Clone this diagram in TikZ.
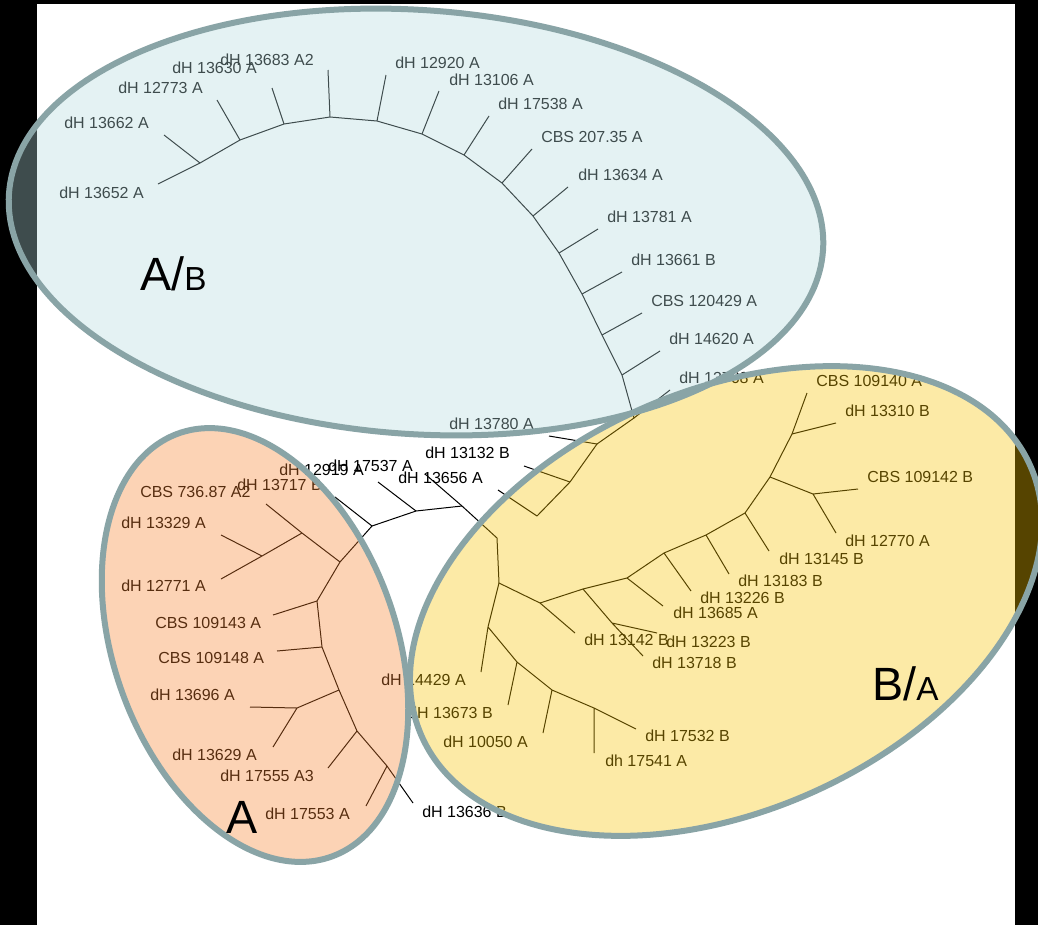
\documentclass[tikz,border=0pt]{standalone}
\usepackage{fontspec}
\setmainfont{Liberation Sans}

\definecolor{rimgray}{RGB}{137,164,166}
\definecolor{grpblue}{RGB}{180,219,222}
\definecolor{grporange}{RGB}{249,130,45}
\definecolor{grpyellow}{RGB}{249,196,0}

\tikzset{
  lbl/.style={anchor=west, inner sep=0pt, font=\fontsize{12}{14}\selectfont},
  br/.style={line width=0.75pt, line join=round},
  grpfill/.style={fill opacity=0.35},
  grprim/.style={draw=rimgray, line width=4.5pt},
  biglbl/.style={anchor=base west, inner sep=0pt}
}

\begin{document}
\begin{tikzpicture}[x=0.75pt,y=0.75pt,yscale=-1,xscale=1]
\useasboundingbox (0,0) rectangle (1038,925);
\clip (0,0) rectangle (1038,925);

%Page
\fill[black] (0,0) rectangle (1038,925);
\fill[white] (37,4) rectangle (1015,925);

%Tree nodes, blue group
\coordinate (b1) at (200,163);   \coordinate (l13652) at (158,184); \coordinate (l13662) at (164,135);
\coordinate (b2) at (240,140);   \coordinate (l12773) at (217,100);
\coordinate (b3) at (284,124);   \coordinate (l13630) at (272,88);
\coordinate (b4) at (330,117);   \coordinate (l13683) at (328,70);
\coordinate (b5) at (377,121);   \coordinate (l12920) at (386,75);
\coordinate (b6) at (422,134);   \coordinate (l13106) at (439,91);
\coordinate (b7) at (464,155);   \coordinate (l17538) at (489,116);
\coordinate (b8) at (502,183);   \coordinate (l20735) at (532,149);
\coordinate (b9) at (533,216);   \coordinate (l13634) at (568,187);
\coordinate (b10) at (559,253);  \coordinate (l13781) at (598,229);
\coordinate (b11) at (582,294);  \coordinate (l13661) at (622,272);
\coordinate (b12) at (602,335);  \coordinate (l120429) at (642,313);
\coordinate (b13) at (622,375);  \coordinate (l14620) at (660,351);
\coordinate (b14) at (634,418);  \coordinate (l13768) at (670,390);
\coordinate (c1) at (597,444);   \coordinate (l13780) at (549,436);
\coordinate (c2) at (570,482);   \coordinate (l13132) at (524,466);
\coordinate (c3) at (537,516);   \coordinate (l13656) at (498,490);
%Tree nodes, centre
\coordinate (r1) at (462,506);   \coordinate (l17537) at (425,474);
\coordinate (r2) at (416,511);   \coordinate (l12919) at (378,482);
\coordinate (r3) at (372,526);   \coordinate (l13717) at (335,497);
\coordinate (r4) at (497,538);
%Tree nodes, orange group
\coordinate (o1) at (340,562);
\coordinate (o2) at (302,533);   \coordinate (l73687) at (266,504);
\coordinate (o3) at (262,556);   \coordinate (l13329) at (221,535); \coordinate (l12771) at (221,579);
\coordinate (o4) at (317,601);   \coordinate (l109143) at (273,615);
\coordinate (o5) at (322,647);   \coordinate (l109148) at (277,651);
\coordinate (o6) at (339,690);
\coordinate (o7) at (297,708);   \coordinate (l13696) at (250,707); \coordinate (l13629) at (273,747);
\coordinate (o8) at (357,731);   \coordinate (l17555) at (328,768);
\coordinate (o9) at (387,766);   \coordinate (l17553) at (366,806); \coordinate (l13636) at (413,803);
%Tree nodes, yellow group
\coordinate (y1) at (499,583);
\coordinate (y2) at (540,603);   \coordinate (l13142) at (575,633);
\coordinate (y3) at (583,589);
\coordinate (y4) at (612,623);   \coordinate (l13718) at (643,656); \coordinate (l13223) at (657,633);
\coordinate (y5) at (627,578);   \coordinate (l13685) at (663,606);
\coordinate (y6) at (664,553);   \coordinate (l13226) at (691,591);
\coordinate (y7) at (706,535);   \coordinate (l13183) at (729,574);
\coordinate (y8) at (745,513);   \coordinate (l13145) at (769,551);
\coordinate (y9) at (770,477);
\coordinate (y10) at (813,494);  \coordinate (l109142) at (858,489); \coordinate (l12770) at (836,533);
\coordinate (y11) at (792,434);  \coordinate (l109140) at (807,393); \coordinate (l13310) at (836,423);
\coordinate (y12) at (488,627);  \coordinate (l14429) at (481,672);
\coordinate (y13) at (517,662);  \coordinate (l13673) at (508,705);
\coordinate (y14) at (552,690);  \coordinate (l10050) at (543,733);
\coordinate (y15) at (594,708);  \coordinate (l17541) at (594,753); \coordinate (l17532) at (636,729);

%Branches
\draw[br] (l13652) -- (b1) -- (b2) -- (b3) -- (b4) -- (b5) -- (b6) -- (b7) -- (b8) -- (b9) -- (b10) -- (b11) -- (b12) -- (b13) -- (b14) -- (c1) -- (c2) -- (c3) -- (l13656);
\draw[br] (b1) -- (l13662) (b2) -- (l12773) (b3) -- (l13630) (b4) -- (l13683) (b5) -- (l12920) (b6) -- (l13106) (b7) -- (l17538);
\draw[br] (b8) -- (l20735) (b9) -- (l13634) (b10) -- (l13781) (b11) -- (l13661) (b12) -- (l120429) (b13) -- (l14620) (b14) -- (l13768);
\draw[br] (c1) -- (l13780) (c2) -- (l13132);
\draw[br] (l13636) -- (o9) -- (o8) -- (o6) -- (o5) -- (o4) -- (o1) -- (r3) -- (r2) -- (r1) -- (r4) -- (y1) -- (y2) -- (y3) -- (y5) -- (y6) -- (y7) -- (y8) -- (y9) -- (y11) -- (l109140);
\draw[br] (r3) -- (l13717) (r2) -- (l12919) (r1) -- (l17537);
\draw[br] (o1) -- (o2) -- (o3) (o2) -- (l73687) (o3) -- (l13329) (o3) -- (l12771) (o4) -- (l109143) (o5) -- (l109148);
\draw[br] (o6) -- (o7) (o7) -- (l13696) (o7) -- (l13629) (o8) -- (l17555) (o9) -- (l17553);
\draw[br] (y2) -- (l13142) (y3) -- (y4) (y4) -- (l13718) (y4) -- (l13223) (y5) -- (l13685) (y6) -- (l13226) (y7) -- (l13183) (y8) -- (l13145);
\draw[br] (y9) -- (y10) (y10) -- (l109142) (y10) -- (l12770) (y11) -- (l13310);
\draw[br] (y1) -- (y12) -- (y13) -- (y14) -- (y15) -- (l17532) (y12) -- (l14429) (y13) -- (l13673) (y14) -- (l10050) (y15) -- (l17541);

% Text Node
\node[lbl] (n13652) at (59,193) {dH 13652 A};
\node[lbl] (n13662) at (64,123) {dH 13662 A};
\node[lbl] (n12773) at (118,88) {dH 12773 A};
\node[lbl] (n13630) at (172,68) {dH 13630 A};
\node[lbl] (n13683) at (220,60) {dH 13683 A2};
\node[lbl] (n12920) at (395,63) {dH 12920 A};
\node[lbl] (n13106) at (449,80) {dH 13106 A};
\node[lbl] (n17538) at (498,104) {dH 17538 A};
\node[lbl] (n20735) at (541,137) {CBS 207.35 A};
\node[lbl] (n13634) at (578,175) {dH 13634 A};
\node[lbl] (n13781) at (607,217) {dH 13781 A};
\node[lbl] (n13661) at (631,260) {dH 13661 B};
\node[lbl] (n120429) at (651,301) {CBS 120429 A};
\node[lbl] (n14620) at (669,339) {dH 14620 A};
\node[lbl] (n13768) at (679,378) {dH 13768 A};
\node[lbl] (n13780) at (449,424) {dH 13780 A};
% Text Node
\node[lbl] (n13132) at (425,453) {dH 13132 B};
\node[lbl] (n17537) at (328,466) {dH 17537 A};
\node[lbl] (n12919) at (279,470) {dH 12919 A};
\node[lbl] (n13656) at (398,478) {dH 13656 A};
% Text Node
\node[lbl] (n13717) at (237,485) {dH 13717 B};
\node[lbl] (n73687) at (140,492) {CBS 736.87 A2};
\node[lbl] (n13329) at (121,523) {dH 13329 A};
\node[lbl] (n12771) at (121,586) {dH 12771 A};
\node[lbl] (n109143) at (155,623) {CBS 109143 A};
\node[lbl] (n109148) at (158,658) {CBS 109148 A};
\node[lbl] (n13696) at (150,695) {dH 13696 A};
\node[lbl] (n13629) at (172,755) {dH 13629 A};
\node[lbl] (n17555) at (220,776) {dH 17555 A3};
\node[lbl] (n17553) at (265,814) {dH 17553 A};
\node[lbl] (n13636) at (422,812) {dH 13636 B};
% Text Node
\node[lbl] (n109140) at (816,381) {CBS 109140 A};
\node[lbl] (n13310) at (845,411) {dH 13310 B};
\node[lbl] (n109142) at (867,477) {CBS 109142 B};
\node[lbl] (n12770) at (845,541) {dH 12770 A};
\node[lbl] (n13145) at (779,559) {dH 13145 B};
\node[lbl] (n13183) at (738,581) {dH 13183 B};
\node[lbl] (n13226) at (700,598) {dH 13226 B};
\node[lbl] (n13685) at (673,613) {dH 13685 A};
\node[lbl] (n13142) at (584,640) {dH 13142 B};
\node[lbl] (n13223) at (666,642) {dH 13223 B};
\node[lbl] (n13718) at (652,663) {dH 13718 B};
\node[lbl] (n14429) at (381,680) {dH 14429 A};
\node[lbl] (n13673) at (408,713) {dH 13673 B};
\node[lbl] (n10050) at (443,742) {dH 10050 A};
\node[lbl] (n17532) at (645,736) {dH 17532 B};
\node[lbl] (n17541) at (605,761) {dh 17541 A};

%Shape: Ellipse groups, fills
\begin{scope}[shift={(416,222)}, rotate=4]
  \fill[grpblue, grpfill] (0,0) ellipse [x radius=408, y radius=212];
\end{scope}
\begin{scope}[shift={(255,645)}, rotate=-20]
  \fill[grporange, grpfill] (0,0) ellipse [x radius=141, y radius=225];
\end{scope}
\begin{scope}[shift={(726,601)}, rotate=-24]
  \fill[grpyellow, grpfill] (0,0) ellipse [x radius=333, y radius=210];
\end{scope}
%Shape: Ellipse groups, rims
\begin{scope}[shift={(416,222)}, rotate=4]
  \draw[grprim] (0,0) ellipse [x radius=408, y radius=212];
\end{scope}
\begin{scope}[shift={(255,645)}, rotate=-20]
  \draw[grprim] (0,0) ellipse [x radius=141, y radius=225];
\end{scope}
\begin{scope}[shift={(726,601)}, rotate=-24]
  \draw[grprim] (0,0) ellipse [x radius=333, y radius=210];
\end{scope}

% Text Node
\node[biglbl] (gAB) at (140,290) {\fontsize{35}{40}\selectfont A/\fontsize{25}{30}\selectfont B};
\node[biglbl] (gBA) at (872,700) {\fontsize{35}{40}\selectfont B/\fontsize{25}{30}\selectfont A};
\node[biglbl] (gA) at (226,833) {\fontsize{35}{40}\selectfont A};

\end{tikzpicture}
\end{document}
